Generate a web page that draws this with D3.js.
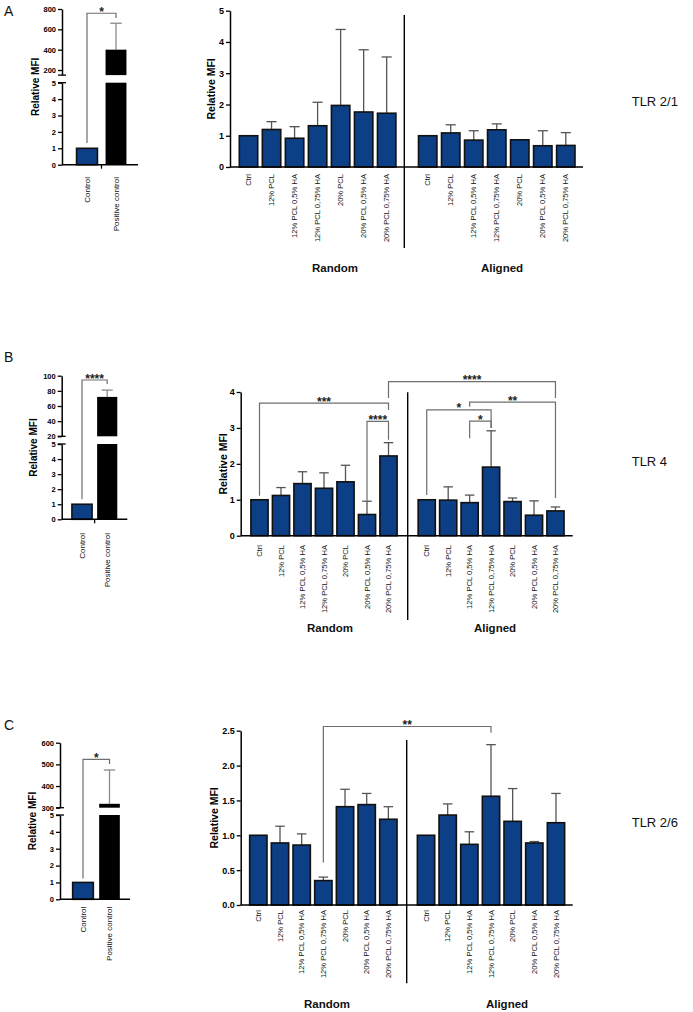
<!DOCTYPE html>
<html><head><meta charset="utf-8">
<script src="https://cdn.jsdelivr.net/npm/d3@7"></script>
<style>
body{margin:0;background:#fff}
svg{display:block}
text{font-family:"Liberation Sans",Arial,Helvetica,sans-serif}
</style>
</head><body>
<svg id="fig" width="693" height="1012"></svg>
<script>
// ---------------- DATA ----------------
const categories = ["Ctrl","12% PCL","12% PCL 0,5% HA","12% PCL 0,75% HA","20% PCL","20% PCL 0,5% HA","20% PCL 0,75% HA"];
const groupNames = ["Random","Aligned"];
const controlLabels = ["Control","Positive control"];
const panelLetters = ["A","B","C"];
const receptorNames = ["TLR 2/1","TLR 4","TLR 2/6"];

// TLR 2/1
const tlr21RandomMean  = [1.00,1.20,0.92,1.32,1.97,1.76,1.72];
const tlr21RandomSD    = [0.00,0.25,0.37,0.75,2.43,1.99,1.80];
const tlr21AlignedMean = [1.00,1.09,0.86,1.19,0.87,0.68,0.69];
const tlr21AlignedSD   = [0.00,0.26,0.30,0.19,0.00,0.48,0.41];
const tlr21ControlMean = [1, 400];
const tlr21ControlSD   = [0, 260];
const tlr21Ticks = [0,1,2,3,4,5];
const tlr21UpperTicks = [200,400,600,800];

// TLR 4
const tlr4RandomMean  = [1.00,1.12,1.45,1.32,1.50,0.59,2.22];
const tlr4RandomSD    = [0.00,0.22,0.33,0.43,0.46,0.37,0.37];
const tlr4AlignedMean = [1.00,0.99,0.92,1.91,0.95,0.57,0.69];
const tlr4AlignedSD   = [0.00,0.37,0.21,1.01,0.10,0.40,0.11];
const tlr4ControlMean = [1, 72];
const tlr4ControlSD   = [0, 9];
const tlr4Ticks = [0,1,2,3,4];
const tlr4UpperTicks = [20,40,60,80,100];

// TLR 2/6
const tlr26RandomMean  = [1.00,0.89,0.86,0.35,1.41,1.44,1.23];
const tlr26RandomSD    = [0.00,0.24,0.16,0.05,0.25,0.16,0.18];
const tlr26AlignedMean = [1.00,1.29,0.87,1.56,1.20,0.89,1.18];
const tlr26AlignedSD   = [0.00,0.16,0.18,0.74,0.47,0.02,0.42];
const tlr26ControlMean = [1, 318];
const tlr26ControlSD   = [0, 156];
const tlr26Ticks = [0,0.5,1,1.5,2,2.5];
const tlr26UpperTicks = [300,400,500,600];

const lowerTicks = [0,1,2,3,4,5];

// significance brackets (heights in data units of each chart)
const tlr21ControlBracket = {top:758, leftEnd:1.32, rightEnd:711, label:"*"};
const tlr4ControlBracket  = {top:94.3, leftEnd:1.33, rightEnd:89, label:"****"};
const tlr26ControlBracket = {top:523, leftEnd:1.24, rightEnd:502, label:"*"};

const tlr21Brackets = [];
const tlr4Brackets = [
  {from:["Random",0], to:["Random",6], top:3.69, leftEnd:1.11, rightEnd:3.50, label:"***"},
  {from:["Random",5], to:["Random",6], top:3.18, leftEnd:0.97, rightEnd:2.67, label:"****"},
  {from:["Random",6], to:["Aligned",6], top:4.29, leftEnd:3.83, rightEnd:3.83, label:"****"},
  {from:["Aligned",2], to:["Aligned",6], top:3.72, leftEnd:3.59, rightEnd:1.05, label:"**"},
  {from:["Aligned",0], to:["Aligned",3], top:3.50, leftEnd:1.13, rightEnd:3.00, label:"*"},
  {from:["Aligned",2], to:["Aligned",3], top:3.19, leftEnd:2.71, rightEnd:3.00, label:"*"}
];
const tlr26Brackets = [
  {from:["Random",3], to:["Aligned",3], top:2.56, leftEnd:0.61, rightEnd:2.47, label:"**"}
];

// ---------------- STYLE / LAYOUT ----------------
const BLUE = "#0c3f86";
const FONT = '"Liberation Sans",Arial,Helvetica,sans-serif';
const svg = d3.select("#fig");
const intFmt = d3.format("d"), decFmt = d3.format(".1f");

function styleAxis(g, fs){
  g.select(".domain").attr("stroke","#000").attr("stroke-width",1.5);
  g.selectAll(".tick line").attr("stroke","#000").attr("stroke-width",1.3);
  g.selectAll(".tick text").attr("font-size",fs).attr("font-weight","bold").attr("fill","#000").attr("font-family",FONT);
}

function rotLabel(x, y, txt, fs, weight){
  svg.append("text")
    .attr("transform",`translate(${x},${y}) rotate(-90)`)
    .attr("text-anchor","end").attr("dy","0.35em")
    .attr("font-size",fs).attr("font-weight",weight||"normal").attr("fill","#111")
    .text(txt);
}

function drawBracket(x1, x2, yTop, yL, yR, label){
  svg.append("path")
    .attr("d",`M${x1},${yL}V${yTop}H${x2}V${yR}`)
    .attr("fill","none").attr("stroke","#6e6e6e").attr("stroke-width",1.2);
  svg.append("text").attr("x",(x1+x2)/2).attr("y",yTop+2.5)
    .attr("text-anchor","middle").attr("font-size",12).attr("font-weight","bold").attr("fill","#222")
    .text(label);
}

function bigChart(c){
  const y = d3.scaleLinear().domain([c.ticks[0], c.ticks[c.ticks.length-1]]).range(c.yRange);
  const xs = {
    Random: d3.scaleBand().domain(categories).range(c.randRange).paddingInner(0.2).paddingOuter(0.1),
    Aligned: d3.scaleBand().domain(categories).range(c.alignRange).paddingInner(0.2).paddingOuter(0.1)
  };
  const cx = (g,i) => xs[g](categories[i]) + xs[g].bandwidth()/2;

  c.brackets.forEach(b => drawBracket(cx(b.from[0],b.from[1]), cx(b.to[0],b.to[1]), y(b.top), y(b.leftEnd), y(b.rightEnd), b.label));

  groupNames.forEach(g => {
    const x = xs[g];
    const rows = categories.map((cat,i) => ({cat, mean:c.means[g][i], sd:c.sds[g][i]}));
    const gg = svg.append("g");
    const bw = x.bandwidth(), cap = bw*0.55;
    const withErr = rows.filter(d => d.sd > 0.015);
    gg.selectAll("line.err").data(withErr).join("line").attr("class","err")
      .attr("x1",d=>x(d.cat)+bw/2).attr("x2",d=>x(d.cat)+bw/2)
      .attr("y1",d=>y(d.mean)).attr("y2",d=>y(d.mean+d.sd))
      .attr("stroke","#555").attr("stroke-width",1.3);
    gg.selectAll("line.cap").data(withErr).join("line").attr("class","cap")
      .attr("x1",d=>x(d.cat)+bw/2-cap/2).attr("x2",d=>x(d.cat)+bw/2+cap/2)
      .attr("y1",d=>y(d.mean+d.sd)).attr("y2",d=>y(d.mean+d.sd))
      .attr("stroke","#555").attr("stroke-width",1.3);
    gg.selectAll("rect").data(rows).join("rect")
      .attr("x",d=>x(d.cat)).attr("y",d=>y(d.mean))
      .attr("width",bw).attr("height",d=>y(0)-y(d.mean))
      .attr("fill",BLUE).attr("stroke","#111").attr("stroke-width",1.6);
    rows.forEach(d => rotLabel(x(d.cat)+bw/2, c.labelTop, d.cat, 7.6));
    svg.append("text").attr("x",c.groupLabelX[g]).attr("y",c.groupLabelY)
      .attr("text-anchor","middle").attr("font-size",11.5).attr("font-weight","bold").attr("fill","#111")
      .text(g);
  });

  const ax = svg.append("g").attr("transform",`translate(${c.axisX},0)`)
    .call(d3.axisLeft(y).tickValues(c.ticks).tickSize(4).tickSizeOuter(0).tickPadding(2).tickFormat(c.fmt));
  styleAxis(ax, 9);
  svg.append("line").attr("x1",c.axisX).attr("x2",c.axisEnd).attr("y1",y(0)).attr("y2",y(0))
    .attr("stroke","#000").attr("stroke-width",1.5);
  svg.append("line").attr("x1",c.dividerX).attr("x2",c.dividerX).attr("y1",c.dividerY[0]).attr("y2",c.dividerY[1])
    .attr("stroke","#000").attr("stroke-width",1.4);
  svg.append("text")
    .attr("transform",`translate(${c.titleX},${(c.yRange[0]+c.yRange[1])/2}) rotate(-90)`)
    .attr("text-anchor","middle").attr("dy","0.35em")
    .attr("font-size",10.5).attr("font-weight","bold").attr("fill","#000").text("Relative MFI");
}

function smallChart(c){
  const yLo = d3.scaleLinear().domain([0,5]).range(c.loRange);
  const yHi = d3.scaleLinear().domain(c.hiDomain).range(c.hiRange);
  const x = d3.scaleBand().domain(controlLabels).range(c.xRange).paddingInner(c.pad).paddingOuter(c.pad/2);
  const bw = x.bandwidth();
  const cxp = l => x(l)+bw/2;

  const b = c.bracket;
  drawBracket(cxp(controlLabels[0]), cxp(controlLabels[1]), yHi(b.top), yLo(b.leftEnd), yHi(b.rightEnd), b.label);

  const rows = controlLabels.map((l,i) => ({label:l, mean:c.means[i], sd:c.sds[i], fill: i===0 ? BLUE : "#000"}));
  rows.filter(d=>d.sd>0).forEach(d => {
    const cxv = cxp(d.label), cap = bw*0.55;
    svg.append("line").attr("x1",cxv).attr("x2",cxv).attr("y1",yHi(d.mean)).attr("y2",yHi(d.mean+d.sd))
      .attr("stroke","#8a8a8a").attr("stroke-width",1.3);
    svg.append("line").attr("x1",cxv-cap/2).attr("x2",cxv+cap/2).attr("y1",yHi(d.mean+d.sd)).attr("y2",yHi(d.mean+d.sd))
      .attr("stroke","#8a8a8a").attr("stroke-width",1.3);
  });
  rows.forEach(d => {
    if (d.mean <= 5){
      svg.append("rect").attr("x",x(d.label)).attr("y",yLo(d.mean)).attr("width",bw).attr("height",yLo(0)-yLo(d.mean))
        .attr("fill",d.fill).attr("stroke","#111").attr("stroke-width",1.6);
    } else {
      svg.append("rect").attr("x",x(d.label)).attr("y",yLo(5)).attr("width",bw).attr("height",yLo(0)-yLo(5))
        .attr("fill",d.fill);
      svg.append("rect").attr("x",x(d.label)).attr("y",yHi(d.mean)).attr("width",bw).attr("height",yHi(c.hiDomain[0])-yHi(d.mean))
        .attr("fill",d.fill);
    }
    rotLabel(cxp(d.label), c.labelTop, d.label, 8);
  });

  const a1 = svg.append("g").attr("transform",`translate(${c.axisX},0)`)
    .call(d3.axisLeft(yLo).tickValues(lowerTicks).tickSize(4).tickSizeOuter(0).tickPadding(2).tickFormat(intFmt));
  styleAxis(a1, 7.5);
  const a2 = svg.append("g").attr("transform",`translate(${c.axisX},0)`)
    .call(d3.axisLeft(yHi).tickValues(c.hiTicks).tickSize(4).tickSizeOuter(0).tickPadding(2).tickFormat(intFmt));
  styleAxis(a2, 7.5);
  [yLo(5), yHi(c.hiDomain[0])].forEach(yy => {
    svg.append("line").attr("x1",c.axisX-4).attr("x2",c.axisX+4).attr("y1",yy).attr("y2",yy)
      .attr("stroke","#000").attr("stroke-width",1.3);
  });
  svg.append("line").attr("x1",c.axisX).attr("x2",c.axisEnd).attr("y1",yLo(0)).attr("y2",yLo(0))
    .attr("stroke","#000").attr("stroke-width",1.5);
  if (c.midTick){
    const mx = (x(controlLabels[0])+bw + x(controlLabels[1]))/2;
    svg.append("line").attr("x1",mx).attr("x2",mx).attr("y1",yLo(0)).attr("y2",yLo(0)+4)
      .attr("stroke","#000").attr("stroke-width",1.3);
  }
  svg.append("text")
    .attr("transform",`translate(${c.titleX},${(c.loRange[0]+c.hiRange[1])/2}) rotate(-90)`)
    .attr("text-anchor","middle").attr("dy","0.35em")
    .attr("font-size",10).attr("font-weight","bold").attr("fill","#000").text("Relative MFI");
}

// ---------------- PANELS ----------------
// Panel A
smallChart({means:tlr21ControlMean, sds:tlr21ControlSD, hiDomain:[150,800], hiTicks:tlr21UpperTicks,
  loRange:[164.7,82.7], hiRange:[75.1,9], xRange:[72.5,130.5], pad:0.28, axisX:62, axisEnd:138,
  labelTop:177, titleX:35, bracket:tlr21ControlBracket, midTick:true});
bigChart({means:{Random:tlr21RandomMean, Aligned:tlr21AlignedMean}, sds:{Random:tlr21RandomSD, Aligned:tlr21AlignedSD},
  ticks:tlr21Ticks, fmt:intFmt, yRange:[167,10.7], randRange:[237,398.2], alignRange:[416.2,577.3],
  axisX:230, axisEnd:583, dividerX:404.3, dividerY:[15,248], labelTop:174, titleX:211.7,
  groupLabelX:{Random:335, Aligned:502}, groupLabelY:272, brackets:tlr21Brackets});

// Panel B
smallChart({means:tlr4ControlMean, sds:tlr4ControlSD, hiDomain:[20,100], hiTicks:tlr4UpperTicks,
  loRange:[519.3,444], hiRange:[436.3,375.7], xRange:[69.4,119.8], pad:0.2, axisX:61.7, axisEnd:127.3,
  labelTop:533, titleX:33, bracket:tlr4ControlBracket, midTick:true});
bigChart({means:{Random:tlr4RandomMean, Aligned:tlr4AlignedMean}, sds:{Random:tlr4RandomSD, Aligned:tlr4AlignedSD},
  ticks:tlr4Ticks, fmt:intFmt, yRange:[535.7,392], randRange:[248.75,399.25], alignRange:[416,566.2],
  axisX:240.7, axisEnd:572.7, dividerX:407.7, dividerY:[392.3,620], labelTop:545, titleX:223.3,
  groupLabelX:{Random:330, Aligned:495}, groupLabelY:632, brackets:tlr4Brackets});

// Panel C
smallChart({means:tlr26ControlMean, sds:tlr26ControlSD, hiDomain:[300,600], hiTicks:tlr26UpperTicks,
  loRange:[899.3,815], hiRange:[807.7,742.7], xRange:[69.75,122.75], pad:0.22, axisX:60, axisEnd:130,
  labelTop:906.7, titleX:32.7, bracket:tlr26ControlBracket, midTick:false});
bigChart({means:{Random:tlr26RandomMean, Aligned:tlr26AlignedMean}, sds:{Random:tlr26RandomSD, Aligned:tlr26AlignedSD},
  ticks:tlr26Ticks, fmt:decFmt, yRange:[905,730.7], randRange:[247.5,399.2], alignRange:[415.2,566.8],
  axisX:240.7, axisEnd:572.7, dividerX:406.7, dividerY:[740,983.3], labelTop:910, titleX:214,
  groupLabelX:{Random:327, Aligned:507}, groupLabelY:1008, brackets:tlr26Brackets});

// Panel letters and receptor names
const letterPos = [[4,15.5],[4,362],[4,729.5]];
const receptorPos = [[631.7,106],[631.7,466],[631.7,827]];
panelLetters.forEach((l,i) => svg.append("text").attr("x",letterPos[i][0]).attr("y",letterPos[i][1])
  .attr("font-size",14).attr("fill","#111").text(l));
receptorNames.forEach((r,i) => svg.append("text").attr("x",receptorPos[i][0]).attr("y",receptorPos[i][1])
  .attr("font-size",13).attr("fill","#111").text(r));
</script>
</body></html>
